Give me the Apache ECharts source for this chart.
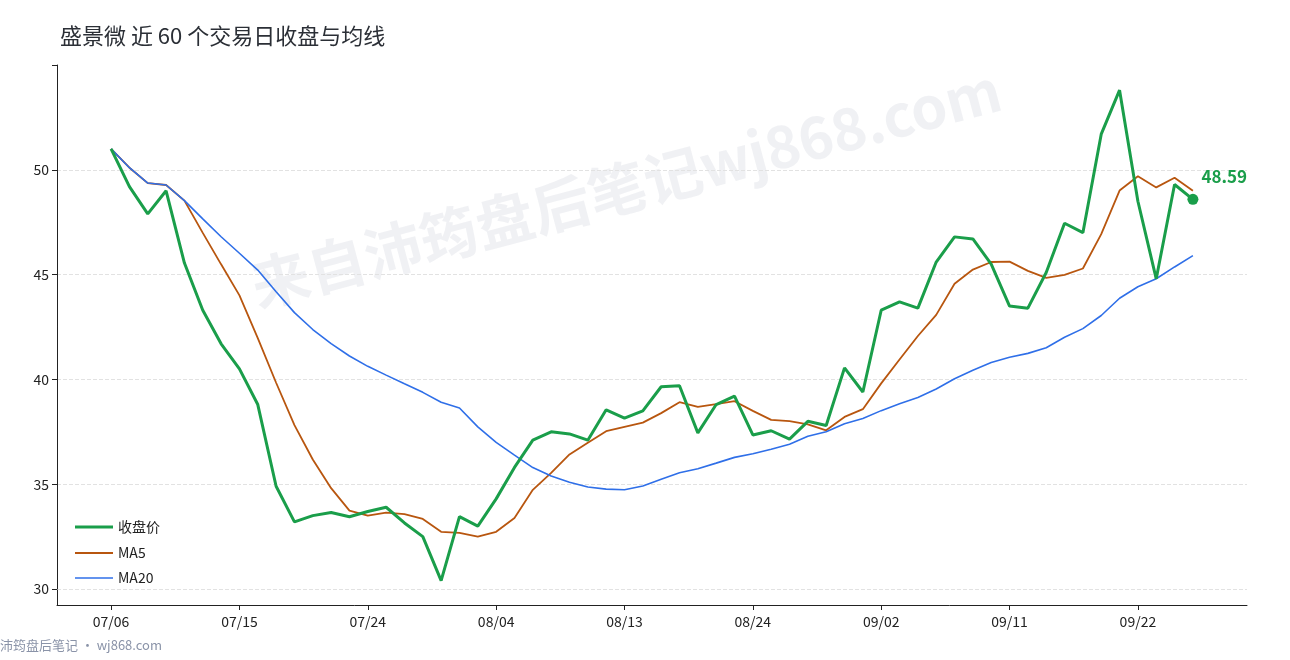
<!DOCTYPE html>
<html><head><meta charset="utf-8">
<script src="https://cdn.jsdelivr.net/npm/echarts@6/dist/echarts.min.js"></script>
<style>html,body{margin:0;padding:0;background:#fff}#c{width:1290px;height:660px}</style>
</head><body><div id="c"></div>
<script>
const dates = ["07/06","07/07","07/08","07/09","07/10","07/13","07/14","07/15","07/16","07/17","07/20","07/21","07/22","07/23","07/24","07/27","07/28","07/29","07/30","07/31","08/03","08/04","08/05","08/06","08/07","08/10","08/11","08/12","08/13","08/14","08/17","08/18","08/19","08/20","08/21","08/24","08/25","08/26","08/27","08/28","08/31","09/01","09/02","09/03","09/04","09/07","09/08","09/09","09/10","09/11","09/14","09/15","09/16","09/17","09/18","09/21","09/22","09/23","09/24","09/25"];
const closes = [51.0,49.2,47.9,49.0,45.55,43.3,41.7,40.5,38.8,34.9,33.2,33.5,33.65,33.45,33.7,33.9,33.15,32.5,30.4,33.45,33.0,34.3,35.8,37.1,37.5,37.4,37.1,38.55,38.15,38.5,39.65,39.7,37.45,38.8,39.2,37.35,37.55,37.15,38.0,37.8,40.55,39.4,43.3,43.7,43.4,45.6,46.8,46.7,45.5,43.5,43.4,45.1,47.45,47.0,51.7,53.8,48.5,44.8,49.3,48.59];
const yTicks = [30,35,40,45,50];
function ma(n){return closes.map((v,i)=>{const s=closes.slice(Math.max(0,i-n+1),i+1);return [i,+(s.reduce((a,b)=>a+b,0)/s.length).toFixed(3)];});}
const labelIdx = dates.map((d,i)=>i).filter(i=>i%7===0);
const ch = echarts.init(document.getElementById('c'));
const last = closes.length-1;
function lg(name,top,h){return {orient:'vertical',left:70,top:top,itemWidth:38,itemHeight:h,icon:'path://M0,0h38v'+h+'h-38z',textStyle:{fontSize:14,color:'#222'},data:[name]};}
ch.setOption({
  animation:false,
  textStyle:{fontFamily:'Noto Sans CJK SC, Noto Sans, sans-serif'},
  title:{text:'盛景微 近 60 个交易日收盘与均线',left:55,top:20,textStyle:{fontSize:22,fontWeight:'normal',color:'#2b2f36',fontFamily:'Noto Sans CJK SC'}},
  graphic:[
    {type:'text',left:245,top:60,rotation:0.26,z:0,style:{text:'来自沛筠盘后笔记wj868.com',font:'bold 58px "Noto Sans CJK SC"',fill:'rgba(200,204,215,0.28)'}},
    {type:'text',left:0,top:639,style:{text:'沛筠盘后笔记 · wj868.com',font:'13px "Noto Sans CJK SC"',fill:'#8a93a8'}},
    {type:'line',shape:{x1:57.5,y1:589,x2:57.5,y2:605},style:{stroke:'#222',lineWidth:1}}
  ],
  legend:[lg('收盘价',515,3),lg('MA5',541,1.8),lg('MA20',566,1.6)],
  grid:{left:57,right:43,top:65,bottom:71},
  xAxis:{type:'value',min:-2.95,max:last+2.95,offset:16,
    axisLine:{lineStyle:{color:'#222'}},
    axisTick:{customValues:labelIdx,length:5,lineStyle:{color:'#222'}},
    axisLabel:{customValues:labelIdx,formatter:v=>dates[Math.round(v)],fontSize:14,color:'#222',margin:10},
    splitLine:{show:false}},
  yAxis:{type:'value',min:30,max:55,interval:5,
    axisLine:{show:true,onZero:false,lineStyle:{color:'#222'}},
    axisTick:{show:true,length:5,lineStyle:{color:'#222'}},
    axisLabel:{customValues:yTicks,fontSize:14,color:'#222'},
    splitLine:{showMaxLine:false,lineStyle:{type:'dashed',color:'#e2e2e2'}}},
  series:[
    {name:'收盘价',type:'line',data:closes.map((v,i)=>[i,v]),symbol:'none',z:5,lineStyle:{width:3,color:'#1a9e4a'},itemStyle:{color:'#1a9e4a'},
     markPoint:{symbol:'circle',symbolSize:11,data:[{coord:[last,closes[last]],value:closes[last]}],
       itemStyle:{color:'#1a9e4a'},label:{show:true,position:[14,-26],formatter:p=>p.value.toFixed(2),color:'#1a9e4a',fontWeight:'bold',fontSize:17}}},
    {name:'MA5',type:'line',data:ma(5),symbol:'none',lineStyle:{width:1.8,color:'#b8560f'},itemStyle:{color:'#b8560f'}},
    {name:'MA20',type:'line',data:ma(20),symbol:'none',lineStyle:{width:1.6,color:'#2f6fe8'},itemStyle:{color:'#2f6fe8'}}
  ]
});
</script></body></html>
